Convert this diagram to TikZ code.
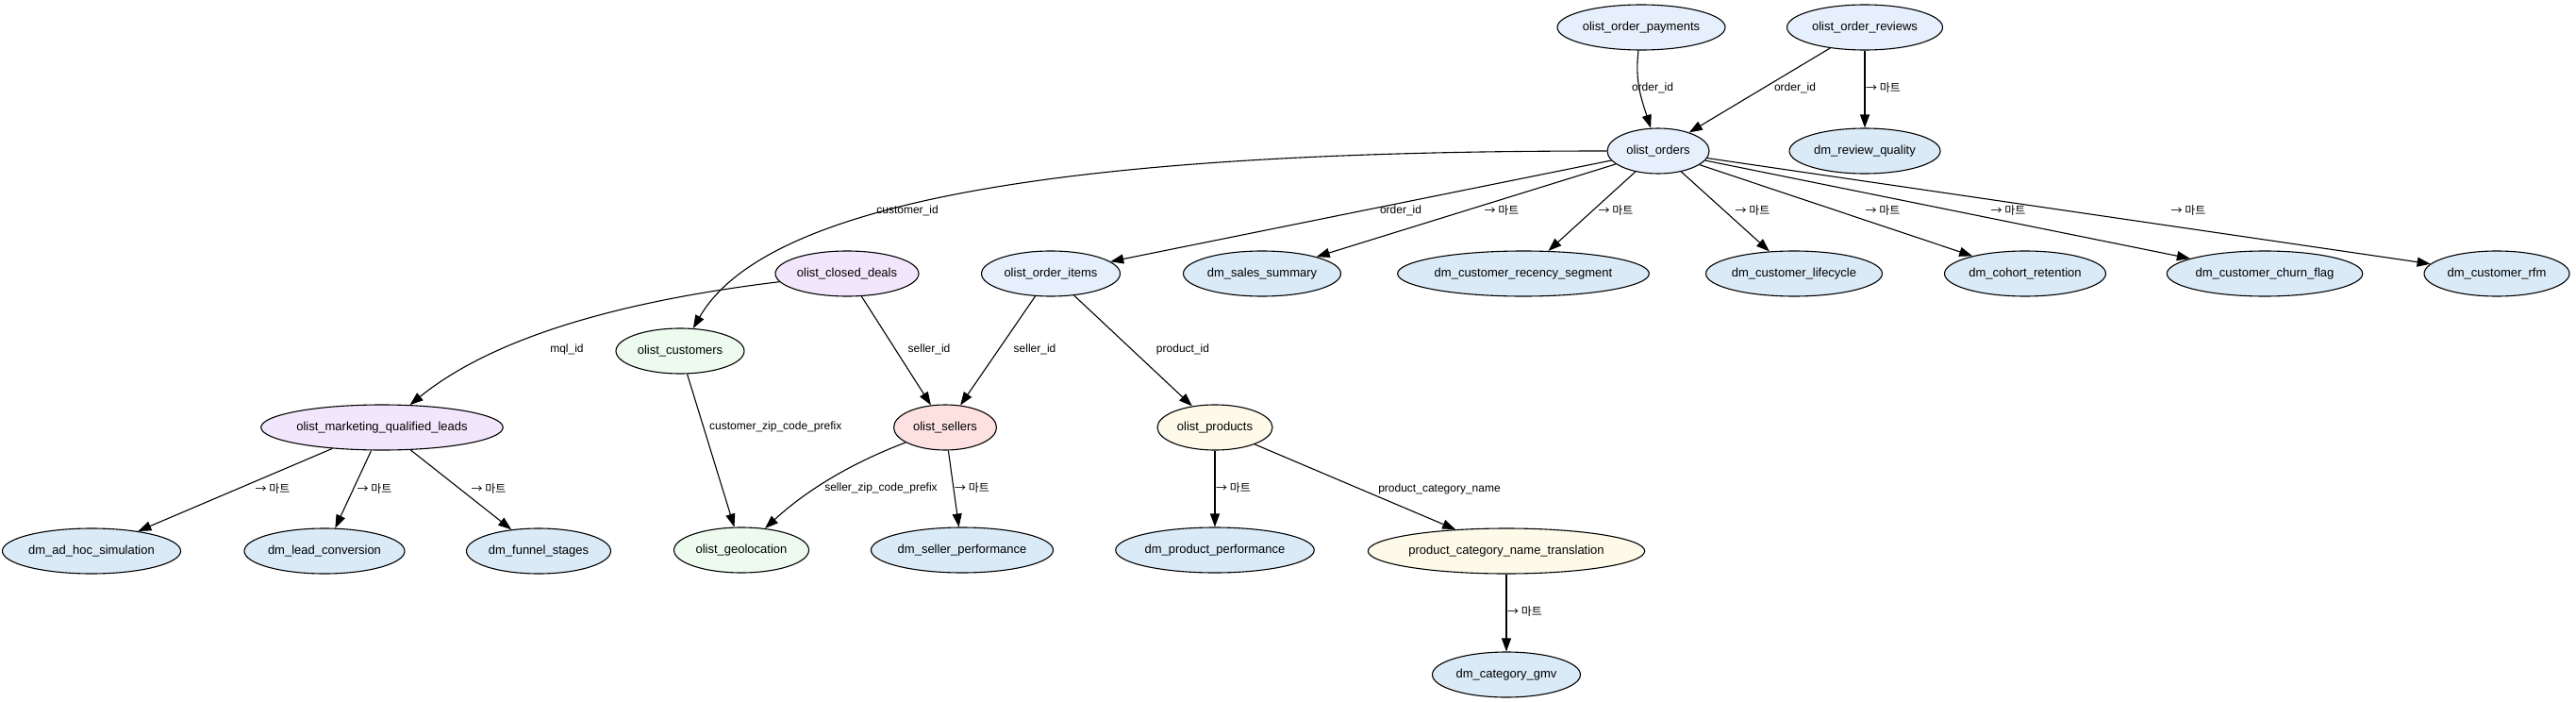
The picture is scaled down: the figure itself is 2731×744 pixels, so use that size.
\documentclass[tikz,border=0pt]{standalone}
\usepackage{fontspec}
\setmainfont{Liberation Sans}
\newfontfamily\krfont{Noto Sans CJK KR}
\usetikzlibrary{shapes.geometric,arrows.meta}
\definecolor{ordblue}{HTML}{E6F0FD}
\definecolor{martblue}{HTML}{DAEAF7}
\definecolor{dealpurple}{HTML}{F2E6FC}
\definecolor{custgreen}{HTML}{EDFBEF}
\definecolor{sellred}{HTML}{FDE1E1}
\definecolor{prodyellow}{HTML}{FDFAEA}
\newcommand{\mart}{{\krfont → 마트}}
\begin{document}
\begin{tikzpicture}[x=1pt,y=-1pt,
  tbl/.style={draw, ellipse, line width=1.1pt, inner sep=0pt, minimum height=48pt, font=\fontsize{13}{15}\selectfont},
  link/.style={draw, line width=1.1pt, -{Triangle[length=14pt,width=10pt]}},
  lbl/.style={font=\fontsize{12}{14}\selectfont, inner sep=0pt}]
\path[use as bounding box, fill=white] (0,0) rectangle (2731,744);

\node[tbl, fill=ordblue, minimum width=178pt] (payments) at (1740,29) {olist\_order\_payments};
\node[tbl, fill=ordblue, minimum width=165pt] (reviews) at (1977,29) {olist\_order\_reviews};
\node[tbl, fill=ordblue, minimum width=108pt] (orders) at (1758,160) {olist\_orders};
\node[tbl, fill=martblue, minimum width=160pt] (revq) at (1977,160) {dm\_review\_quality};
\node[tbl, fill=dealpurple, minimum width=152pt] (deals) at (898,290) {olist\_closed\_deals};
\node[tbl, fill=ordblue, minimum width=147pt] (items) at (1114,290) {olist\_order\_items};
\node[tbl, fill=martblue, minimum width=167pt] (sales) at (1338,290) {dm\_sales\_summary};
\node[tbl, fill=martblue, minimum width=253pt] (recency) at (1615,290) {dm\_customer\_recency\_segment};
\node[tbl, fill=martblue, minimum width=186pt] (lifecycle) at (1902,290) {dm\_customer\_lifecycle};
\node[tbl, fill=martblue, minimum width=171pt] (cohort) at (2147,290) {dm\_cohort\_retention};
\node[tbl, fill=martblue, minimum width=201pt] (churn) at (2401,290) {dm\_customer\_churn\_flag};
\node[tbl, fill=martblue, minimum width=154pt] (rfm) at (2647,290) {dm\_customer\_rfm};
\node[tbl, fill=custgreen, minimum width=136pt] (customers) at (721,372) {olist\_customers};
\node[tbl, fill=dealpurple, minimum width=247pt] (mql) at (405,453) {olist\_marketing\_qualified\_leads};
\node[tbl, fill=sellred, minimum width=109pt] (sellers) at (1002,453) {olist\_sellers};
\node[tbl, fill=prodyellow, minimum width=122pt] (products) at (1288,453) {olist\_products};
\node[tbl, fill=martblue, minimum width=187pt] (adhoc) at (97,584) {dm\_ad\_hoc\_simulation};
\node[tbl, fill=martblue, minimum width=170pt] (lead) at (344,584) {dm\_lead\_conversion};
\node[tbl, fill=martblue, minimum width=153pt] (funnel) at (571,584) {dm\_funnel\_stages};
\node[tbl, fill=custgreen, minimum width=143pt] (geo) at (786,583) {olist\_geolocation};
\node[tbl, fill=martblue, minimum width=193pt] (sellperf) at (1020,583) {dm\_seller\_performance};
\node[tbl, fill=martblue, minimum width=207pt] (prodperf) at (1288,583) {dm\_product\_performance};
\node[tbl, fill=prodyellow, minimum width=278pt] (transl) at (1597,584) {product\_category\_name\_translation};
\node[tbl, fill=martblue, minimum width=157pt] (gmv) at (1597,715) {dm\_category\_gmv};

\path[link] (payments) to[out=-97,in=108] (orders);
\path[link] (reviews) -- (orders);
\path[link] (reviews) -- (revq);
\path[link] (orders) .. controls (1200,160) and (820,200) .. (customers);
\path[link] (orders) -- (items);
\path[link] (orders) -- (sales);
\path[link] (orders) -- (recency);
\path[link] (orders) -- (lifecycle);
\path[link] (orders) -- (cohort);
\path[link] (orders) -- (churn);
\path[link] (orders) -- (rfm);
\path[link] (deals) .. controls (650,320) and (520,360) .. (mql);
\path[link] (deals) -- (sellers);
\path[link] (items) -- (sellers);
\path[link] (items) -- (products);
\path[link] (customers) -- (geo);
\path[link] (sellers) .. controls (910,488) and (860,515) .. (geo);
\path[link] (sellers) -- (sellperf);
\path[link] (products) -- (prodperf);
\path[link] (products) -- (transl);
\path[link] (transl) -- (gmv);
\path[link] (mql) -- (adhoc);
\path[link] (mql) -- (lead);
\path[link] (mql) -- (funnel);

\node[lbl] (lpay) at (1752,93) {order\_id};
\node[lbl] (lrev) at (1903,93) {order\_id};
\node[lbl, anchor=west] (lrevq) at (1978,93) {\mart};
\node[lbl] (lcust) at (962,223) {customer\_id};
\node[lbl] (litems) at (1485,223) {order\_id};
\node[lbl] (lsales) at (1592,223) {\mart};
\node[lbl] (lrecency) at (1713,223) {\mart};
\node[lbl] (llife) at (1858,223) {\mart};
\node[lbl] (lcohort) at (1996,223) {\mart};
\node[lbl] (lchurn) at (2129,223) {\mart};
\node[lbl] (lrfm) at (2320,223) {\mart};
\node[lbl] (lmql) at (601,370) {mql\_id};
\node[lbl] (ldeals) at (985,370) {seller\_id};
\node[lbl] (lsellers) at (1097,370) {seller\_id};
\node[lbl] (lprod) at (1254,370) {product\_id};
\node[lbl, anchor=west] (lczip) at (752,452) {customer\_zip\_code\_prefix};
\node[lbl] (lszip) at (934,517) {seller\_zip\_code\_prefix};
\node[lbl, anchor=west] (lsellperf) at (1012,517) {\mart};
\node[lbl, anchor=west] (lprodperf) at (1289,517) {\mart};
\node[lbl] (lcat) at (1526,518) {product\_category\_name};
\node[lbl, anchor=west] (lgmv) at (1598,648) {\mart};
\node[lbl] (ladhoc) at (289,518) {\mart};
\node[lbl] (llead) at (397,518) {\mart};
\node[lbl] (lfunnel) at (518,518) {\mart};
\end{tikzpicture}
\end{document}
